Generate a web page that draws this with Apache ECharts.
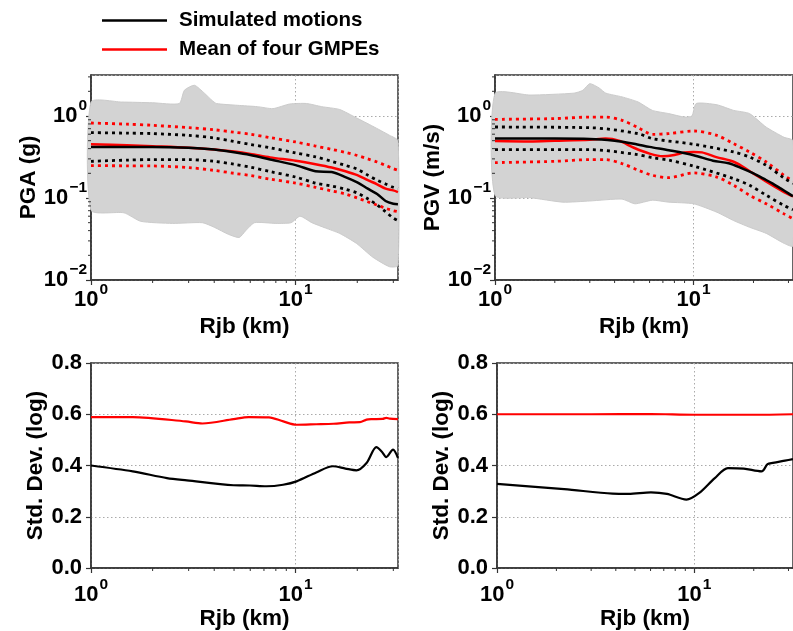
<!DOCTYPE html>
<html>
<head>
<meta charset="utf-8">
<script src="https://cdn.jsdelivr.net/npm/echarts@6/dist/echarts.min.js"></script>
<style>html,body{margin:0;padding:0;background:#fff;}#c{width:793px;height:631px;}</style>
</head>
<body>
<div id="c"></div>
<script>
// ---------------- DATA ----------------
// PGA panel (top-left)
const pgaSimX = [1, 1.5, 2, 3, 4, 5, 6, 7.5, 10, 12.5, 15, 17.5, 20, 22.5, 25, 27.5, 30, 31.6];
const pgaSimMean = [0.418, 0.42, 0.42, 0.41, 0.39, 0.362, 0.335, 0.295, 0.252, 0.212, 0.207, 0.18, 0.155, 0.13, 0.112, 0.092, 0.085, 0.084];
const pgaSimUp = [0.627, 0.618, 0.61, 0.58, 0.54, 0.49, 0.45, 0.41, 0.354, 0.318, 0.28, 0.25, 0.225, 0.19, 0.165, 0.148, 0.135, 0.13];
const pgaSimLo = [0.28, 0.29, 0.294, 0.294, 0.28, 0.258, 0.238, 0.21, 0.18, 0.152, 0.14, 0.128, 0.115, 0.098, 0.082, 0.068, 0.057, 0.053];
const pgaGmpeMean = [0.452, 0.44, 0.428, 0.41, 0.39, 0.368, 0.345, 0.313, 0.285, 0.258, 0.235, 0.212, 0.19, 0.165, 0.147, 0.13, 0.124, 0.118];
const pgaGmpeUp = [0.822, 0.795, 0.77, 0.72, 0.68, 0.635, 0.6, 0.545, 0.482, 0.43, 0.392, 0.36, 0.33, 0.3, 0.275, 0.25, 0.228, 0.218];
const pgaGmpeLo = [0.248, 0.247, 0.246, 0.235, 0.217, 0.2, 0.188, 0.17, 0.152, 0.135, 0.122, 0.112, 0.1, 0.09, 0.082, 0.075, 0.07, 0.068];
const pgaCloudTopX = [1, 1.41, 2.0, 2.7, 2.86, 3.2, 3.58, 3.9, 4.1, 5.2, 6.5, 7.75, 9.35, 11.3, 13.4, 16.4, 19.8, 23.8, 28.8, 31.6];
const pgaCloudTopY = [1.48, 1.48, 1.45, 1.42, 2.06, 2.37, 1.9, 1.55, 1.42, 1.35, 1.3, 1.23, 1.4, 1.42, 1.3, 1.2, 0.95, 0.75, 0.58, 0.5];
const pgaCloudBotX = [1, 1.45, 1.75, 2.5, 3.5, 4.0, 4.7, 5.3, 5.7, 6.3, 8, 9.5, 10.5, 12, 14, 16.4, 19.8, 23.8, 28.8, 31.6];
const pgaCloudBotY = [0.071, 0.066, 0.052, 0.049, 0.05, 0.044, 0.036, 0.033, 0.04, 0.05, 0.049, 0.05, 0.06, 0.05, 0.043, 0.037, 0.028, 0.019, 0.0145, 0.015];

// PGV panel (top-right)
const pgvSimX = [1, 1.5, 2, 3, 4, 5, 6, 7.5, 10, 12.5, 15, 17.5, 20, 22.5, 25, 27.5, 30, 31.6];
const pgvSimMean = [0.53, 0.53, 0.53, 0.526, 0.5, 0.46, 0.42, 0.382, 0.332, 0.285, 0.265, 0.23, 0.2, 0.172, 0.15, 0.13, 0.114, 0.105];
const pgvSimUpX = [1, 3, 5.26, 6.2, 10, 15.9, 19.1, 23.2, 28.5, 31.6];
const pgvSimUp = [0.734, 0.72, 0.61, 0.53, 0.452, 0.364, 0.316, 0.25, 0.175, 0.15];
const pgvSimLoX = [1, 3, 5.13, 6.2, 7.48, 10, 15.9, 19.1, 23.2, 28.5, 31.6];
const pgvSimLo = [0.389, 0.389, 0.34, 0.31, 0.29, 0.245, 0.172, 0.143, 0.108, 0.081, 0.072];
const pgvGmpeX = [1, 1.5, 2, 3, 3.6, 4.2, 5, 6, 7, 8, 9, 10, 11, 13, 16, 19, 23, 28.5, 31.6];
const pgvGmpeMean = [0.496, 0.49, 0.5, 0.515, 0.53, 0.5, 0.41, 0.348, 0.323, 0.335, 0.36, 0.365, 0.36, 0.315, 0.275, 0.215, 0.16, 0.118, 0.105];
const pgvGmpeBandX = [1, 2, 3, 3.6, 4.36, 5.26, 6.2, 7.48, 10, 13.1, 15.9, 19.1, 23.2, 28.5, 31.6];
const pgvGmpeUp = [0.91, 0.93, 0.97, 0.97, 0.886, 0.72, 0.598, 0.61, 0.656, 0.58, 0.46, 0.364, 0.275, 0.189, 0.16];
const pgvGmpeLo = [0.27, 0.28, 0.294, 0.294, 0.263, 0.218, 0.189, 0.177, 0.202, 0.18, 0.143, 0.108, 0.085, 0.064, 0.056];
const pgvCloudTopX = [1, 1.5, 2.5, 2.77, 3.0, 3.34, 3.61, 4.36, 5.26, 6.2, 7.48, 9.0, 9.8, 10.3, 13.1, 15.9, 19.1, 23.2, 28.5, 31.6];
const pgvCloudTopY = [1.88, 1.8, 1.9, 2.06, 2.48, 2.2, 1.9, 1.71, 1.48, 1.17, 1.07, 0.97, 1.0, 1.42, 1.37, 1.17, 1.07, 0.73, 0.55, 0.5];
const pgvCloudBotX = [1, 1.5, 2.2, 3, 4.36, 5.06, 6.2, 7.48, 10, 13.1, 15.9, 19.1, 23.2, 28.5, 31.6];
const pgvCloudBotY = [0.108, 0.101, 0.089, 0.092, 0.097, 0.085, 0.094, 0.089, 0.085, 0.067, 0.053, 0.044, 0.037, 0.028, 0.026];

// Std. dev. of PGA (bottom-left)
const sdPgaGmpeX = [1, 1.6, 2.9, 3.5, 4.97, 5.9, 7.4, 8.7, 10.1, 12.6, 15.3, 18.3, 20.6, 22.2, 23.5, 26.6, 27.7, 28.8, 31.6];
const sdPgaGmpe = [0.589, 0.589, 0.572, 0.564, 0.581, 0.589, 0.588, 0.572, 0.559, 0.561, 0.563, 0.568, 0.569, 0.579, 0.581, 0.582, 0.586, 0.583, 0.581];
const sdPgaSimX = [1, 1.6, 2.35, 2.94, 4.97, 5.97, 7.2, 8.68, 10.1, 12.6, 15.2, 17.5, 19.8, 22.2, 24.8, 26.3, 27.7, 29.9, 31.6];
const sdPgaSim = [0.4, 0.377, 0.351, 0.342, 0.323, 0.322, 0.319, 0.325, 0.338, 0.373, 0.397, 0.388, 0.381, 0.41, 0.472, 0.455, 0.433, 0.462, 0.43];

// Std. dev. of PGV (bottom-right)
const sdPgvGmpeX = [1, 3, 6, 10, 20, 31.6];
const sdPgvGmpe = [0.6, 0.6, 0.601, 0.598, 0.598, 0.6];
const sdPgvSimX = [1, 2.19, 3.85, 4.64, 6.03, 7.26, 9.12, 10.6, 12.7, 14.8, 17.8, 21.9, 23.5, 25, 28.8, 31.6];
const sdPgvSim = [0.328, 0.308, 0.29, 0.289, 0.295, 0.289, 0.267, 0.293, 0.351, 0.39, 0.388, 0.377, 0.405, 0.41, 0.419, 0.425];

// Axis tick values
const xMinorTicks = [2, 3, 4, 5, 6, 7, 8, 9, 20, 30];
const yMinorTicksLog = [0.02, 0.03, 0.04, 0.05, 0.06, 0.07, 0.08, 0.09, 0.2, 0.3, 0.4, 0.5, 0.6, 0.7, 0.8, 0.9, 2, 3];
const legendNames = ['Simulated motions', 'Mean of four GMPEs'];

// ---------------- CHART ----------------
const FONT = '"Liberation Sans", Arial, Helvetica, sans-serif';
const AX = '#333';
const zip = (xs, ys) => xs.map((x, i) => [x, ys[i]]);

function powLabel(v) {
  const e = Math.log10(v);
  const r = Math.round(e);
  if (Math.abs(e - r) > 1e-6) return '';
  return '{b|10}{s|' + (r < 0 ? '\u2212' + (-r) : r) + '}';
}
const richPow = {
  b: { fontSize: 22, fontWeight: 'bold', fontFamily: FONT, color: '#000', lineHeight: 22, verticalAlign: 'bottom' },
  s: { fontSize: 15.5, fontWeight: 'bold', fontFamily: FONT, color: '#000', lineHeight: 15.5, padding: [0, 0, 13, 1], verticalAlign: 'bottom' }
};
const nameStyle = { fontSize: 22.5, fontWeight: 'bold', fontFamily: FONT, color: '#000' };
const splitStyle = { show: true, lineStyle: { color: '#aaa', type: [1.5, 2.5], width: 1 } };

function xLog(gi, labelMargin, nameGap) {
  return {
    type: 'log', logBase: 10, gridIndex: gi, min: 1, max: 31.6228,
    name: 'Rjb (km)', nameLocation: 'middle', nameGap: nameGap, nameTextStyle: nameStyle,
    axisLine: { show: true, lineStyle: { color: AX, width: 1.5 } },
    axisTick: { show: true, length: 5, lineStyle: { color: AX, width: 1.2 } },
    axisLabel: { formatter: powLabel, rich: richPow, margin: labelMargin, showMaxLabel: false },
    splitLine: splitStyle
  };
}
function yLog(gi, name, nameGap) {
  return {
    type: 'log', logBase: 10, gridIndex: gi, min: 0.01, max: 3.16228,
    name: name, nameLocation: 'middle', nameGap: nameGap, nameTextStyle: nameStyle,
    axisLine: { show: true, lineStyle: { color: AX, width: 1.5 } },
    axisTick: { show: true, length: 5, lineStyle: { color: AX, width: 1.2 } },
    axisLabel: { formatter: powLabel, rich: richPow, margin: 4, showMaxLabel: false },
    splitLine: splitStyle
  };
}
function yLin(gi, nameGap) {
  return {
    type: 'value', gridIndex: gi, min: 0, max: 0.8, interval: 0.2,
    name: 'Std. Dev. (log)', nameLocation: 'middle', nameGap: nameGap, nameTextStyle: nameStyle,
    axisLine: { show: true, lineStyle: { color: AX, width: 1.5 } },
    axisTick: { show: true, length: 5, lineStyle: { color: AX, width: 1.2 } },
    axisLabel: { formatter: v => v.toFixed(1), fontSize: 22, fontWeight: 'bold', fontFamily: FONT, color: '#000', margin: 9 },
    splitLine: splitStyle
  };
}

function lineSeries(gi, name, data, color, dotted, width) {
  return {
    type: 'line', name: name, xAxisIndex: gi, yAxisIndex: gi, data: data,
    showSymbol: false, symbol: 'none', smooth: 0.3, silent: true, z: dotted ? 3 : 4,
    lineStyle: { color: color, width: width, type: dotted ? [3, 4] : 'solid', cap: 'butt' },
    itemStyle: { color: color }
  };
}
function cloudSeries(gi, tx, ty, bx, by) {
  return {
    type: 'custom', xAxisIndex: gi, yAxisIndex: gi, silent: true, z: 1,
    data: [[tx[0], ty[0]]],
    renderItem: function (params, api) {
      const pts = [];
      for (let i = 0; i < tx.length; i++) pts.push(api.coord([tx[i], ty[i]]));
      for (let i = bx.length - 1; i >= 0; i--) pts.push(api.coord([bx[i], by[i]]));
      return { type: 'polygon', shape: { points: pts, smooth: 0.2 }, style: { fill: '#d3d3d3', stroke: '#cbcbcb', lineWidth: 1 } };
    }
  };
}
function minorX(gi, yBase) {
  return {
    type: 'custom', xAxisIndex: gi, yAxisIndex: gi, silent: true, clip: false, z: 10,
    data: xMinorTicks.map(v => [v, yBase]),
    renderItem: function (params, api) {
      const p = api.coord([api.value(0), api.value(1)]);
      return { type: 'line', shape: { x1: p[0], y1: p[1], x2: p[0], y2: p[1] + 3 }, style: { stroke: AX, lineWidth: 1 } };
    }
  };
}
function minorY(gi) {
  return {
    type: 'custom', xAxisIndex: gi, yAxisIndex: gi, silent: true, clip: false, z: 10,
    data: yMinorTicksLog.map(v => [1, v]),
    renderItem: function (params, api) {
      const p = api.coord([api.value(0), api.value(1)]);
      return { type: 'line', shape: { x1: p[0], y1: p[1], x2: p[0] - 3, y2: p[1] }, style: { stroke: AX, lineWidth: 1 } };
    }
  };
}

const gridStyle = { show: true, borderColor: AX, borderWidth: 1.5, backgroundColor: 'transparent', containLabel: false };

const option = {
  animation: false,
  backgroundColor: '#fff',
  legend: {
    data: legendNames, orient: 'vertical', left: 102, top: 10, padding: 0,
    icon: 'rect', itemWidth: 65, itemHeight: 2.5, itemGap: 8,
    textStyle: { fontSize: 20.5, fontWeight: 'bold', fontFamily: FONT, color: '#000', padding: [0, 0, 0, 7] },
    selectedMode: false
  },
  grid: [
    Object.assign({ left: 91, top: 75, width: 307, height: 205 }, gridStyle),
    Object.assign({ left: 495, top: 75, width: 306, height: 205 }, gridStyle),
    Object.assign({ left: 91, top: 363, width: 307, height: 205 }, gridStyle),
    Object.assign({ left: 497, top: 363, width: 307, height: 205 }, gridStyle)
  ],
  xAxis: [xLog(0, 9, 35), xLog(1, 9, 35), xLog(2, 16, 39), xLog(3, 16, 39)],
  yAxis: [yLog(0, 'PGA (g)', 49), yLog(1, 'PGV (m/s)', 51), yLin(2, 43), yLin(3, 43)],
  series: [
    cloudSeries(0, pgaCloudTopX, pgaCloudTopY, pgaCloudBotX, pgaCloudBotY),
    lineSeries(0, 'pga-gmpe-up', zip(pgaSimX, pgaGmpeUp), '#ff0000', true, 2.8),
    lineSeries(0, 'pga-gmpe-lo', zip(pgaSimX, pgaGmpeLo), '#ff0000', true, 2.8),
    lineSeries(0, 'pga-sim-up', zip(pgaSimX, pgaSimUp), '#000', true, 2.8),
    lineSeries(0, 'pga-sim-lo', zip(pgaSimX, pgaSimLo), '#000', true, 2.8),
    lineSeries(0, legendNames[1], zip(pgaSimX, pgaGmpeMean), '#ff0000', false, 2.5),
    lineSeries(0, legendNames[0], zip(pgaSimX, pgaSimMean), '#000', false, 2.5),
    minorX(0, 0.01), minorY(0),

    cloudSeries(1, pgvCloudTopX, pgvCloudTopY, pgvCloudBotX, pgvCloudBotY),
    lineSeries(1, 'pgv-gmpe-up', zip(pgvGmpeBandX, pgvGmpeUp), '#ff0000', true, 2.8),
    lineSeries(1, 'pgv-gmpe-lo', zip(pgvGmpeBandX, pgvGmpeLo), '#ff0000', true, 2.8),
    lineSeries(1, 'pgv-sim-up', zip(pgvSimUpX, pgvSimUp), '#000', true, 2.8),
    lineSeries(1, 'pgv-sim-lo', zip(pgvSimLoX, pgvSimLo), '#000', true, 2.8),
    lineSeries(1, 'pgv-gmpe', zip(pgvGmpeX, pgvGmpeMean), '#ff0000', false, 2.5),
    lineSeries(1, 'pgv-sim', zip(pgvSimX, pgvSimMean), '#000', false, 2.5),
    minorX(1, 0.01), minorY(1),

    lineSeries(2, 'sd-pga-gmpe', zip(sdPgaGmpeX, sdPgaGmpe), '#ff0000', false, 2.2),
    lineSeries(2, 'sd-pga-sim', zip(sdPgaSimX, sdPgaSim), '#000', false, 2.2),
    minorX(2, 0),

    lineSeries(3, 'sd-pgv-gmpe', zip(sdPgvGmpeX, sdPgvGmpe), '#ff0000', false, 2.2),
    lineSeries(3, 'sd-pgv-sim', zip(sdPgvSimX, sdPgvSim), '#000', false, 2.2),
    minorX(3, 0)
  ]
};

const chart = echarts.init(document.getElementById('c'), null, { renderer: 'canvas' });
chart.setOption(option);
</script>
</body>
</html>
